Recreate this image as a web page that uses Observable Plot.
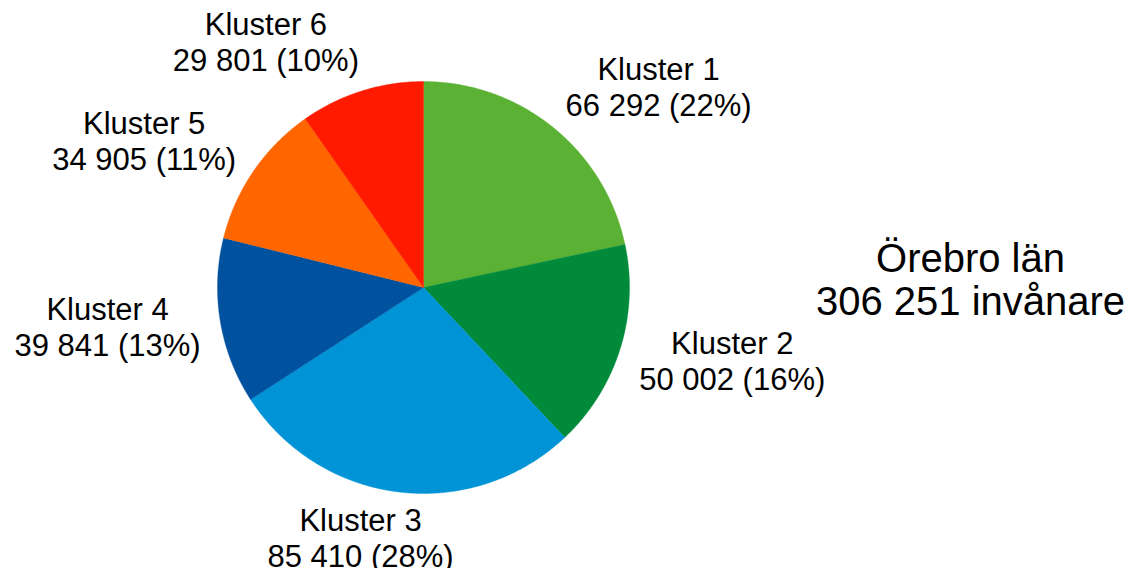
<!DOCTYPE html>
<html>
<head>
<meta charset="utf-8">
<script src="https://cdn.jsdelivr.net/npm/d3@7"></script>
<script src="https://cdn.jsdelivr.net/npm/@observablehq/plot@0.6"></script>
<style>
  html, body { margin: 0; padding: 0; background: #fff; }
  #chart svg { display: block; }
</style>
</head>
<body>
<div id="chart"></div>
<script>
// ---- data ----
const clusters = ["Kluster 1", "Kluster 2", "Kluster 3", "Kluster 4", "Kluster 5", "Kluster 6"];
const population = [66292, 50002, 85410, 39841, 34905, 29801];
const colors = ["#5BB133", "#008A3A", "#0093D6", "#00519E", "#FF6600", "#FF1A00"];
const regionName = "Örebro län";
const regionUnit = "invånare";

// ---- layout ----
const W = 1131, H = 568;
const cx = 423, cy = 287, R = 206; // pixel geometry of pie

const fmt = d3.formatLocale({decimal: ",", thousands: "\u00a0", grouping: [3], currency: ["", " kr"]}).format(",d");
const total = d3.sum(population);

// slices: angles clockwise from top
let acc = 0;
const slices = clusters.map((c, i) => {
  const a0 = acc / total * 2 * Math.PI;
  acc += population[i];
  const a1 = acc / total * 2 * Math.PI;
  return {cluster: c, value: population[i], a0, a1};
});

// polygon points (unit circle coordinates)
const pts = [];
for (const s of slices) {
  pts.push({cluster: s.cluster, x: 0, y: 0});
  const n = Math.max(8, Math.ceil((s.a1 - s.a0) / 0.005));
  for (let k = 0; k <= n; k++) {
    const a = s.a0 + (s.a1 - s.a0) * k / n;
    pts.push({cluster: s.cluster, x: Math.sin(a), y: Math.cos(a)});
  }
  pts.push({cluster: s.cluster, x: 0, y: 0});
}

// labels
const halfW = 93 / R, gapX = 20 / R, gapY = 49 / R;
const labels = slices.map(s => {
  const m = (s.a0 + s.a1) / 2;
  const dx = Math.sin(m), dy = Math.cos(m);
  const shift = Math.max(-1, Math.min(1, 3.2 * dx));
  return {
    text: `${s.cluster}\n${fmt(s.value)} (${Math.round(s.value / total * 100)}%)`,
    x: (1 + gapX) * dx + halfW * shift,
    y: (1 + gapY) * dy
  };
});

const chart = Plot.plot({
  width: W,
  height: H,
  margin: 0,
  style: {fontFamily: "'Liberation Sans', Arial, sans-serif", background: "#fff"},
  x: {domain: [(0 - cx) / R, (W - cx) / R], axis: null},
  y: {domain: [(cy - H) / R, cy / R], axis: null},
  color: {domain: clusters, range: colors},
  marks: [
    Plot.line(pts, {x: "x", y: "y", z: "cluster", fill: "cluster", stroke: "cluster", strokeWidth: 0.4, curve: "linear"}),
    Plot.text(labels, {x: "x", y: "y", text: "text", fontSize: 31, lineHeight: 1.16, dy: -3, fill: "#000", textAnchor: "middle"}),
    Plot.text([`${regionName}\n${fmt(total)} ${regionUnit}`], {
      text: d => d, frameAnchor: "right", dx: -161, dy: -5, textAnchor: "middle",
      fontSize: 40, lineHeight: 1.08, fill: "#000"
    })
  ]
});
document.getElementById("chart").appendChild(chart);
</script>
</body>
</html>
